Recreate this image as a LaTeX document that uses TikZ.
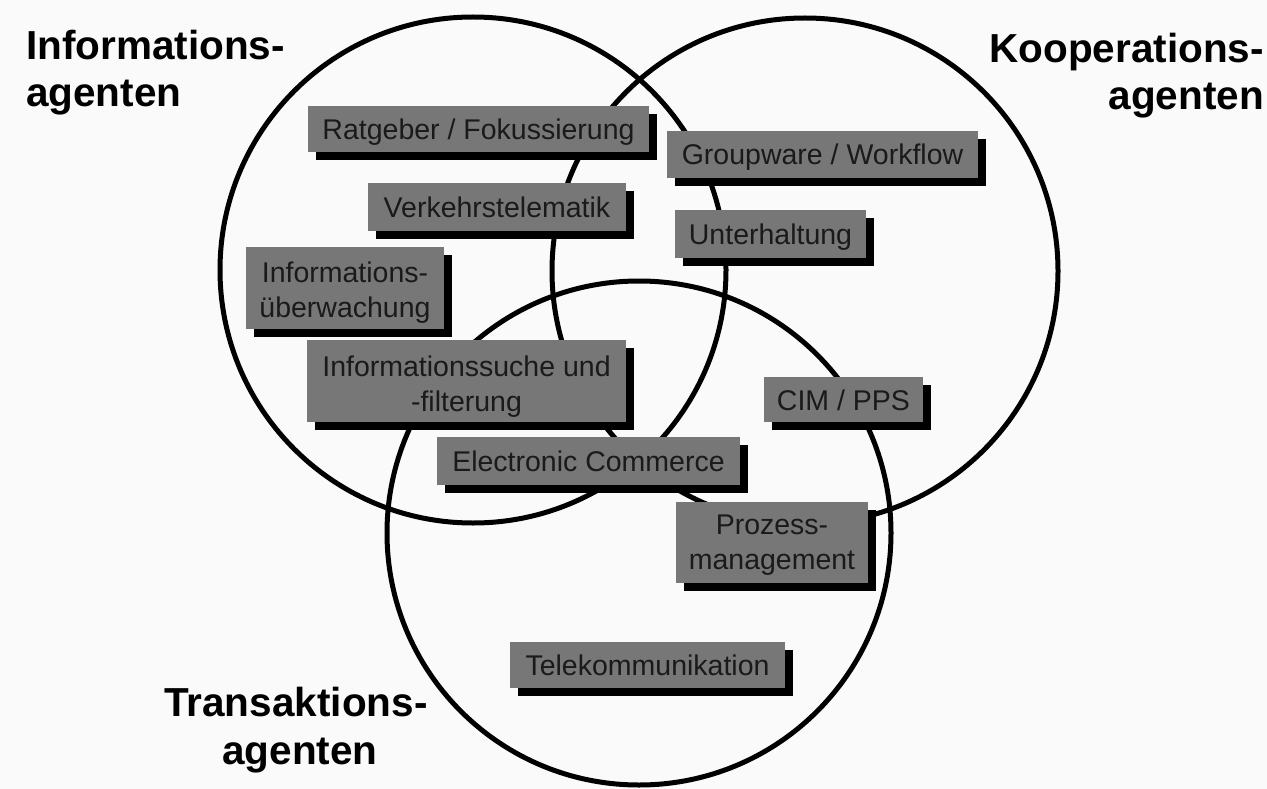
\documentclass[tikz,border=0pt]{standalone}
\usepackage{fontspec}
\setmainfont{Liberation Sans}
\usetikzlibrary{shadows}
\definecolor{boxgray}{RGB}{119,119,119}
\definecolor{boxtext}{RGB}{26,26,26}
\definecolor{paper}{RGB}{250,250,250}
% raises the first line of a two-line box
\newcommand\firstline[1]{\rule{0pt}{#1pt}}
\begin{document}
\begin{tikzpicture}[x=1pt,y=-1pt,
  ring/.style={draw=black,line width=5pt},
  field/.style={fill=boxgray,text=boxtext,inner sep=0pt,align=center,
    font=\fontsize{28.5}{35}\selectfont,
    general shadow={fill=black,shadow xshift=7.5pt,shadow yshift=-8pt}},
  oneline/.style={field,text height=21pt,text depth=0pt},
  twoline/.style={field},
  group/.style={inner sep=0pt,font=\fontsize{40.5}{48}\selectfont\bfseries}]
\fill[paper] (0,0) rectangle (1267,789);
\useasboundingbox (0,0) rectangle (1267,789);

% the three agent classes
\coordinate (cInfo) at (473,270);
\coordinate (cKoop) at (805,271);
\coordinate (cTrans) at (639,533);
\draw[ring] (cInfo) circle[radius=253pt];
\draw[ring] (cKoop) circle[radius=253pt];
\draw[ring] (cTrans) circle[radius=252pt];

% application areas
\node[oneline,minimum width=341pt,minimum height=46pt] (ratgeber) at (478.5,129) {Ratgeber / Fokussierung};
\node[oneline,minimum width=258pt,minimum height=48pt] (verkehr) at (497,207) {Verkehrstelematik};
\node[twoline,minimum width=198pt,minimum height=82pt] (ueberw) at (345,288) {\firstline{29}Informations-\\überwachung};
\node[oneline,minimum width=311pt,minimum height=47pt] (groupware) at (822.5,154.5) {Groupware / Workflow};
\node[oneline,minimum width=191pt,minimum height=48pt] (unterh) at (770.5,234) {Unterhaltung};
\node[twoline,minimum width=319pt,minimum height=82pt] (suche) at (466.5,381) {\firstline{31}Informationssuche und\\-filterung};
\node[oneline,minimum width=303pt,minimum height=48pt] (ecommerce) at (588.5,461) {Electronic Commerce};
\node[oneline,minimum width=159pt,minimum height=45pt] (cim) at (843.5,399.5) {CIM / PPS};
\node[twoline,minimum width=192pt,minimum height=81pt] (prozess) at (772,542.5) {\firstline{24}Prozess-\\management};
\node[oneline,minimum width=275pt,minimum height=46pt] (telekom) at (647.5,665) {Telekommunikation};

% class labels
\node[group,anchor=base west] (infoA) at (26,60) {Informations-};
\node[group,anchor=base west] (infoB) at (26,107) {agenten};
\node[group,anchor=base east] (koopA) at (1264,63) {Kooperations-};
\node[group,anchor=base east] (koopB) at (1264,110) {agenten};
\node[group,anchor=base west] (transA) at (164,716) {Transaktions-};
\node[group,anchor=base] (transB) at (300,764) {agenten};
\end{tikzpicture}
\end{document}
